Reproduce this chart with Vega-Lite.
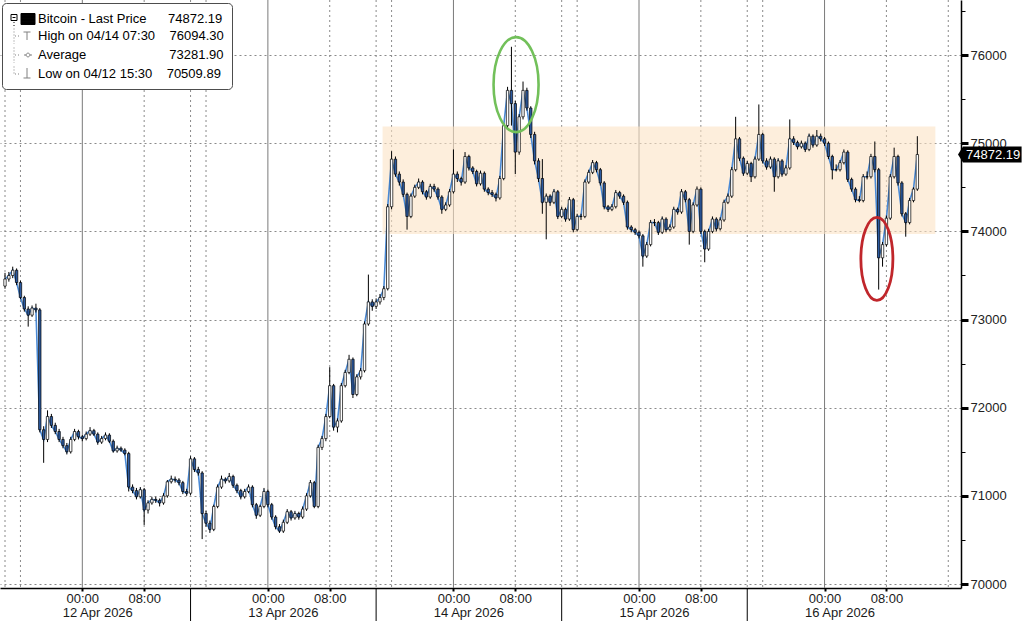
{
  "$schema": "https://vega.github.io/schema/vega-lite/v6.json",
  "width": 961,
  "height": 588,
  "autosize": {"type": "none"},
  "padding": {"left": 0, "top": 0, "right": 62, "bottom": 33},
  "background": "#ffffff",
  "config": {"view": {"stroke": null}, "font": "Liberation Sans"},
  "datasets": {
    "px": [
      {"t":"2026-04-11T14:00","o":73380,"h":73530,"l":73350,"c":73460},
      {"t":"2026-04-11T14:30","o":73460,"h":73540,"l":73430,"c":73500},
      {"t":"2026-04-11T15:00","o":73500,"h":73600,"l":73470,"c":73560},
      {"t":"2026-04-11T15:30","o":73560,"h":73580,"l":73390,"c":73420},
      {"t":"2026-04-11T16:00","o":73420,"h":73440,"l":73230,"c":73250},
      {"t":"2026-04-11T16:30","o":73250,"h":73270,"l":73090,"c":73120},
      {"t":"2026-04-11T17:00","o":73120,"h":73150,"l":72920,"c":73050},
      {"t":"2026-04-11T17:30","o":73050,"h":73160,"l":73030,"c":73130},
      {"t":"2026-04-11T18:00","o":73130,"h":73180,"l":73080,"c":73110},
      {"t":"2026-04-11T18:30","o":73110,"h":73130,"l":71720,"c":71750},
      {"t":"2026-04-11T19:00","o":71750,"h":71790,"l":71375,"c":71640},
      {"t":"2026-04-11T19:30","o":71640,"h":71970,"l":71610,"c":71900},
      {"t":"2026-04-11T20:00","o":71900,"h":71930,"l":71770,"c":71800},
      {"t":"2026-04-11T20:30","o":71800,"h":71830,"l":71700,"c":71730},
      {"t":"2026-04-11T21:00","o":71730,"h":71760,"l":71610,"c":71640},
      {"t":"2026-04-11T21:30","o":71640,"h":71670,"l":71540,"c":71570},
      {"t":"2026-04-11T22:00","o":71570,"h":71600,"l":71470,"c":71500},
      {"t":"2026-04-11T22:30","o":71500,"h":71670,"l":71480,"c":71640},
      {"t":"2026-04-11T23:00","o":71640,"h":71760,"l":71620,"c":71730},
      {"t":"2026-04-11T23:30","o":71730,"h":71750,"l":71640,"c":71670},
      {"t":"2026-04-12T00:00","o":71670,"h":71690,"l":71620,"c":71650},
      {"t":"2026-04-12T00:30","o":71650,"h":71730,"l":71630,"c":71700},
      {"t":"2026-04-12T01:00","o":71700,"h":71780,"l":71680,"c":71740},
      {"t":"2026-04-12T01:30","o":71740,"h":71760,"l":71680,"c":71700},
      {"t":"2026-04-12T02:00","o":71700,"h":71720,"l":71580,"c":71610},
      {"t":"2026-04-12T02:30","o":71610,"h":71680,"l":71590,"c":71650},
      {"t":"2026-04-12T03:00","o":71650,"h":71720,"l":71630,"c":71690},
      {"t":"2026-04-12T03:30","o":71690,"h":71710,"l":71600,"c":71620},
      {"t":"2026-04-12T04:00","o":71620,"h":71640,"l":71490,"c":71510},
      {"t":"2026-04-12T04:30","o":71510,"h":71570,"l":71490,"c":71540},
      {"t":"2026-04-12T05:00","o":71540,"h":71560,"l":71500,"c":71520},
      {"t":"2026-04-12T05:30","o":71520,"h":71540,"l":71460,"c":71480},
      {"t":"2026-04-12T06:00","o":71480,"h":71500,"l":71050,"c":71100},
      {"t":"2026-04-12T06:30","o":71100,"h":71130,"l":71030,"c":71060},
      {"t":"2026-04-12T07:00","o":71060,"h":71090,"l":70960,"c":70990},
      {"t":"2026-04-12T07:30","o":70990,"h":71100,"l":70970,"c":71070},
      {"t":"2026-04-12T08:00","o":71070,"h":71090,"l":70670,"c":70840},
      {"t":"2026-04-12T08:30","o":70840,"h":70950,"l":70800,"c":70920},
      {"t":"2026-04-12T09:00","o":70920,"h":70990,"l":70900,"c":70960},
      {"t":"2026-04-12T09:30","o":70960,"h":70990,"l":70920,"c":70950},
      {"t":"2026-04-12T10:00","o":70950,"h":70970,"l":70880,"c":70920},
      {"t":"2026-04-12T10:30","o":70920,"h":71030,"l":70900,"c":71000},
      {"t":"2026-04-12T11:00","o":71000,"h":71180,"l":70980,"c":71160},
      {"t":"2026-04-12T11:30","o":71160,"h":71230,"l":71140,"c":71190},
      {"t":"2026-04-12T12:00","o":71190,"h":71220,"l":71150,"c":71180},
      {"t":"2026-04-12T12:30","o":71180,"h":71200,"l":71120,"c":71150},
      {"t":"2026-04-12T13:00","o":71150,"h":71170,"l":71020,"c":71050},
      {"t":"2026-04-12T13:30","o":71050,"h":71080,"l":71000,"c":71030},
      {"t":"2026-04-12T14:00","o":71030,"h":71450,"l":71010,"c":71420},
      {"t":"2026-04-12T14:30","o":71420,"h":71440,"l":71270,"c":71300},
      {"t":"2026-04-12T15:00","o":71300,"h":71330,"l":71230,"c":71260},
      {"t":"2026-04-12T15:30","o":71260,"h":71280,"l":70509.89,"c":70800},
      {"t":"2026-04-12T16:00","o":70800,"h":70830,"l":70650,"c":70690},
      {"t":"2026-04-12T16:30","o":70690,"h":70720,"l":70580,"c":70620},
      {"t":"2026-04-12T17:00","o":70620,"h":70900,"l":70600,"c":70880},
      {"t":"2026-04-12T17:30","o":70880,"h":71130,"l":70860,"c":71100},
      {"t":"2026-04-12T18:00","o":71100,"h":71230,"l":71080,"c":71190},
      {"t":"2026-04-12T18:30","o":71190,"h":71210,"l":71140,"c":71170},
      {"t":"2026-04-12T19:00","o":71170,"h":71260,"l":71150,"c":71220},
      {"t":"2026-04-12T19:30","o":71220,"h":71240,"l":71090,"c":71120},
      {"t":"2026-04-12T20:00","o":71120,"h":71140,"l":71030,"c":71060},
      {"t":"2026-04-12T20:30","o":71060,"h":71080,"l":70960,"c":70990},
      {"t":"2026-04-12T21:00","o":70990,"h":71080,"l":70970,"c":71050},
      {"t":"2026-04-12T21:30","o":71050,"h":71130,"l":71030,"c":71100},
      {"t":"2026-04-12T22:00","o":71100,"h":71120,"l":70870,"c":70900},
      {"t":"2026-04-12T22:30","o":70900,"h":70920,"l":70740,"c":70780},
      {"t":"2026-04-12T23:00","o":70780,"h":70900,"l":70760,"c":70880},
      {"t":"2026-04-12T23:30","o":70880,"h":71090,"l":70860,"c":71050},
      {"t":"2026-04-13T00:00","o":71050,"h":71070,"l":70870,"c":70900},
      {"t":"2026-04-13T00:30","o":70900,"h":70920,"l":70730,"c":70760},
      {"t":"2026-04-13T01:00","o":70760,"h":70780,"l":70620,"c":70650},
      {"t":"2026-04-13T01:30","o":70650,"h":70680,"l":70580,"c":70600},
      {"t":"2026-04-13T02:00","o":70600,"h":70730,"l":70580,"c":70700},
      {"t":"2026-04-13T02:30","o":70700,"h":70850,"l":70680,"c":70820},
      {"t":"2026-04-13T03:00","o":70820,"h":70840,"l":70720,"c":70750},
      {"t":"2026-04-13T03:30","o":70750,"h":70830,"l":70730,"c":70800},
      {"t":"2026-04-13T04:00","o":70800,"h":70820,"l":70730,"c":70760},
      {"t":"2026-04-13T04:30","o":70760,"h":70880,"l":70740,"c":70850},
      {"t":"2026-04-13T05:00","o":70850,"h":71030,"l":70830,"c":71000},
      {"t":"2026-04-13T05:30","o":71000,"h":71180,"l":70980,"c":71150},
      {"t":"2026-04-13T06:00","o":71150,"h":71170,"l":70860,"c":70880},
      {"t":"2026-04-13T06:30","o":70880,"h":71580,"l":70860,"c":71550},
      {"t":"2026-04-13T07:00","o":71550,"h":71680,"l":71520,"c":71650},
      {"t":"2026-04-13T07:30","o":71650,"h":71930,"l":71620,"c":71900},
      {"t":"2026-04-13T08:00","o":71900,"h":72460,"l":71880,"c":72250},
      {"t":"2026-04-13T08:30","o":72250,"h":72270,"l":71740,"c":71780},
      {"t":"2026-04-13T09:00","o":71780,"h":71880,"l":71720,"c":71850},
      {"t":"2026-04-13T09:30","o":71850,"h":72280,"l":71830,"c":72250},
      {"t":"2026-04-13T10:00","o":72250,"h":72430,"l":72230,"c":72400},
      {"t":"2026-04-13T10:30","o":72400,"h":72600,"l":72380,"c":72550},
      {"t":"2026-04-13T11:00","o":72550,"h":72570,"l":72110,"c":72150},
      {"t":"2026-04-13T11:30","o":72150,"h":72380,"l":72130,"c":72350},
      {"t":"2026-04-13T12:00","o":72350,"h":72450,"l":72320,"c":72420},
      {"t":"2026-04-13T12:30","o":72420,"h":72980,"l":72400,"c":72950},
      {"t":"2026-04-13T13:00","o":72950,"h":73510,"l":72930,"c":73200},
      {"t":"2026-04-13T13:30","o":73200,"h":73230,"l":73100,"c":73150},
      {"t":"2026-04-13T14:00","o":73150,"h":73240,"l":73120,"c":73200},
      {"t":"2026-04-13T14:30","o":73200,"h":73290,"l":73170,"c":73250},
      {"t":"2026-04-13T15:00","o":73250,"h":73380,"l":73220,"c":73350},
      {"t":"2026-04-13T15:30","o":73350,"h":74310,"l":73330,"c":74280},
      {"t":"2026-04-13T16:00","o":74280,"h":74910,"l":74250,"c":74820},
      {"t":"2026-04-13T16:30","o":74820,"h":74850,"l":74620,"c":74650},
      {"t":"2026-04-13T17:00","o":74650,"h":74680,"l":74520,"c":74560},
      {"t":"2026-04-13T17:30","o":74560,"h":74590,"l":74390,"c":74420},
      {"t":"2026-04-13T18:00","o":74420,"h":74440,"l":74020,"c":74170},
      {"t":"2026-04-13T18:30","o":74170,"h":74430,"l":74150,"c":74400},
      {"t":"2026-04-13T19:00","o":74400,"h":74530,"l":74380,"c":74500},
      {"t":"2026-04-13T19:30","o":74500,"h":74600,"l":74480,"c":74560},
      {"t":"2026-04-13T20:00","o":74560,"h":74580,"l":74420,"c":74450},
      {"t":"2026-04-13T20:30","o":74450,"h":74470,"l":74360,"c":74390},
      {"t":"2026-04-13T21:00","o":74390,"h":74540,"l":74370,"c":74510},
      {"t":"2026-04-13T21:30","o":74510,"h":74540,"l":74450,"c":74480},
      {"t":"2026-04-13T22:00","o":74480,"h":74500,"l":74360,"c":74390},
      {"t":"2026-04-13T22:30","o":74390,"h":74410,"l":74200,"c":74250},
      {"t":"2026-04-13T23:00","o":74250,"h":74330,"l":74230,"c":74300},
      {"t":"2026-04-13T23:30","o":74300,"h":74480,"l":74280,"c":74450},
      {"t":"2026-04-14T00:00","o":74450,"h":74930,"l":74430,"c":74650},
      {"t":"2026-04-14T00:30","o":74650,"h":74680,"l":74560,"c":74600},
      {"t":"2026-04-14T01:00","o":74600,"h":74620,"l":74520,"c":74560},
      {"t":"2026-04-14T01:30","o":74560,"h":74900,"l":74540,"c":74850},
      {"t":"2026-04-14T02:00","o":74850,"h":74870,"l":74690,"c":74720},
      {"t":"2026-04-14T02:30","o":74720,"h":74740,"l":74650,"c":74680},
      {"t":"2026-04-14T03:00","o":74680,"h":74700,"l":74510,"c":74540},
      {"t":"2026-04-14T03:30","o":74540,"h":74690,"l":74520,"c":74660},
      {"t":"2026-04-14T04:00","o":74660,"h":74680,"l":74450,"c":74480},
      {"t":"2026-04-14T04:30","o":74480,"h":74500,"l":74410,"c":74440},
      {"t":"2026-04-14T05:00","o":74440,"h":74470,"l":74390,"c":74420},
      {"t":"2026-04-14T05:30","o":74420,"h":74440,"l":74340,"c":74380},
      {"t":"2026-04-14T06:00","o":74380,"h":74630,"l":74360,"c":74600},
      {"t":"2026-04-14T06:30","o":74600,"h":75230,"l":74580,"c":75200},
      {"t":"2026-04-14T07:00","o":75200,"h":75640,"l":75170,"c":75600},
      {"t":"2026-04-14T07:30","o":75600,"h":76094.3,"l":75200,"c":75450},
      {"t":"2026-04-14T08:00","o":75450,"h":75480,"l":74650,"c":74900},
      {"t":"2026-04-14T08:30","o":74900,"h":75330,"l":74870,"c":75300},
      {"t":"2026-04-14T09:00","o":75300,"h":75700,"l":75270,"c":75600},
      {"t":"2026-04-14T09:30","o":75600,"h":75630,"l":75370,"c":75400},
      {"t":"2026-04-14T10:00","o":75400,"h":75420,"l":75060,"c":75100},
      {"t":"2026-04-14T10:30","o":75100,"h":75130,"l":74760,"c":74800},
      {"t":"2026-04-14T11:00","o":74800,"h":74830,"l":74560,"c":74600},
      {"t":"2026-04-14T11:30","o":74600,"h":74820,"l":74200,"c":74330},
      {"t":"2026-04-14T12:00","o":74330,"h":74430,"l":73910,"c":74400},
      {"t":"2026-04-14T12:30","o":74400,"h":74420,"l":74290,"c":74330},
      {"t":"2026-04-14T13:00","o":74330,"h":74480,"l":74310,"c":74450},
      {"t":"2026-04-14T13:30","o":74450,"h":74470,"l":74140,"c":74170},
      {"t":"2026-04-14T14:00","o":74170,"h":74280,"l":74150,"c":74250},
      {"t":"2026-04-14T14:30","o":74250,"h":74270,"l":74110,"c":74140},
      {"t":"2026-04-14T15:00","o":74140,"h":74390,"l":74120,"c":74360},
      {"t":"2026-04-14T15:30","o":74360,"h":74380,"l":73990,"c":74020},
      {"t":"2026-04-14T16:00","o":74020,"h":74200,"l":74000,"c":74170},
      {"t":"2026-04-14T16:30","o":74170,"h":74200,"l":74130,"c":74170},
      {"t":"2026-04-14T17:00","o":74170,"h":74590,"l":74150,"c":74560},
      {"t":"2026-04-14T17:30","o":74560,"h":74700,"l":74540,"c":74670},
      {"t":"2026-04-14T18:00","o":74670,"h":74810,"l":74650,"c":74780},
      {"t":"2026-04-14T18:30","o":74780,"h":74800,"l":74670,"c":74700},
      {"t":"2026-04-14T19:00","o":74700,"h":74720,"l":74520,"c":74550},
      {"t":"2026-04-14T19:30","o":74550,"h":74570,"l":74250,"c":74280},
      {"t":"2026-04-14T20:00","o":74280,"h":74300,"l":74220,"c":74250},
      {"t":"2026-04-14T20:30","o":74250,"h":74310,"l":74230,"c":74280},
      {"t":"2026-04-14T21:00","o":74280,"h":74470,"l":74260,"c":74440},
      {"t":"2026-04-14T21:30","o":74440,"h":74460,"l":74370,"c":74400},
      {"t":"2026-04-14T22:00","o":74400,"h":74420,"l":74300,"c":74330},
      {"t":"2026-04-14T22:30","o":74330,"h":74350,"l":74020,"c":74050},
      {"t":"2026-04-14T23:00","o":74050,"h":74070,"l":73990,"c":74020},
      {"t":"2026-04-14T23:30","o":74020,"h":74040,"l":73960,"c":73990},
      {"t":"2026-04-15T00:00","o":73990,"h":74010,"l":73920,"c":73950},
      {"t":"2026-04-15T00:30","o":73950,"h":73970,"l":73600,"c":73720},
      {"t":"2026-04-15T01:00","o":73720,"h":73880,"l":73700,"c":73850},
      {"t":"2026-04-15T01:30","o":73850,"h":74130,"l":73830,"c":74100},
      {"t":"2026-04-15T02:00","o":74100,"h":74140,"l":74060,"c":74100},
      {"t":"2026-04-15T02:30","o":74100,"h":74120,"l":73960,"c":73990},
      {"t":"2026-04-15T03:00","o":73990,"h":74170,"l":73970,"c":74140},
      {"t":"2026-04-15T03:30","o":74140,"h":74160,"l":73990,"c":74020},
      {"t":"2026-04-15T04:00","o":74020,"h":74080,"l":74000,"c":74050},
      {"t":"2026-04-15T04:30","o":74050,"h":74280,"l":74030,"c":74250},
      {"t":"2026-04-15T05:00","o":74250,"h":74270,"l":74190,"c":74220},
      {"t":"2026-04-15T05:30","o":74220,"h":74480,"l":74200,"c":74450},
      {"t":"2026-04-15T06:00","o":74450,"h":74470,"l":74330,"c":74360},
      {"t":"2026-04-15T06:30","o":74360,"h":74380,"l":73850,"c":74000},
      {"t":"2026-04-15T07:00","o":74000,"h":74330,"l":73980,"c":74300},
      {"t":"2026-04-15T07:30","o":74300,"h":74510,"l":74280,"c":74480},
      {"t":"2026-04-15T08:00","o":74480,"h":74500,"l":73970,"c":74000},
      {"t":"2026-04-15T08:30","o":74000,"h":74020,"l":73650,"c":73800},
      {"t":"2026-04-15T09:00","o":73800,"h":74030,"l":73780,"c":74000},
      {"t":"2026-04-15T09:30","o":74000,"h":74170,"l":73980,"c":74140},
      {"t":"2026-04-15T10:00","o":74140,"h":74160,"l":74000,"c":74030},
      {"t":"2026-04-15T10:30","o":74030,"h":74160,"l":74010,"c":74130},
      {"t":"2026-04-15T11:00","o":74130,"h":74360,"l":74110,"c":74330},
      {"t":"2026-04-15T11:30","o":74330,"h":74430,"l":74310,"c":74400},
      {"t":"2026-04-15T12:00","o":74400,"h":74730,"l":74380,"c":74700},
      {"t":"2026-04-15T12:30","o":74700,"h":75300,"l":74680,"c":75050},
      {"t":"2026-04-15T13:00","o":75050,"h":75070,"l":74800,"c":74830},
      {"t":"2026-04-15T13:30","o":74830,"h":74850,"l":74630,"c":74660},
      {"t":"2026-04-15T14:00","o":74660,"h":74800,"l":74640,"c":74770},
      {"t":"2026-04-15T14:30","o":74770,"h":74790,"l":74560,"c":74620},
      {"t":"2026-04-15T15:00","o":74620,"h":74850,"l":74600,"c":74820},
      {"t":"2026-04-15T15:30","o":74820,"h":75440,"l":74800,"c":75100},
      {"t":"2026-04-15T16:00","o":75100,"h":75120,"l":74770,"c":74800},
      {"t":"2026-04-15T16:30","o":74800,"h":74830,"l":74700,"c":74730},
      {"t":"2026-04-15T17:00","o":74730,"h":74850,"l":74710,"c":74820},
      {"t":"2026-04-15T17:30","o":74820,"h":74840,"l":74450,"c":74620},
      {"t":"2026-04-15T18:00","o":74620,"h":74830,"l":74600,"c":74800},
      {"t":"2026-04-15T18:30","o":74800,"h":74820,"l":74620,"c":74650},
      {"t":"2026-04-15T19:00","o":74650,"h":74750,"l":74630,"c":74720},
      {"t":"2026-04-15T19:30","o":74720,"h":75270,"l":74700,"c":75050},
      {"t":"2026-04-15T20:00","o":75050,"h":75080,"l":74980,"c":75010},
      {"t":"2026-04-15T20:30","o":75010,"h":75030,"l":74930,"c":74960},
      {"t":"2026-04-15T21:00","o":74960,"h":75030,"l":74940,"c":75000},
      {"t":"2026-04-15T21:30","o":75000,"h":75020,"l":74900,"c":74930},
      {"t":"2026-04-15T22:00","o":74930,"h":75110,"l":74910,"c":75080},
      {"t":"2026-04-15T22:30","o":75080,"h":75100,"l":74950,"c":74980},
      {"t":"2026-04-15T23:00","o":74980,"h":75150,"l":74960,"c":75080},
      {"t":"2026-04-15T23:30","o":75080,"h":75110,"l":75020,"c":75050},
      {"t":"2026-04-16T00:00","o":75050,"h":75070,"l":74970,"c":75000},
      {"t":"2026-04-16T00:30","o":75000,"h":75020,"l":74820,"c":74850},
      {"t":"2026-04-16T01:00","o":74850,"h":74870,"l":74590,"c":74700},
      {"t":"2026-04-16T01:30","o":74700,"h":74760,"l":74680,"c":74700},
      {"t":"2026-04-16T02:00","o":74700,"h":74810,"l":74680,"c":74780},
      {"t":"2026-04-16T02:30","o":74780,"h":74930,"l":74760,"c":74900},
      {"t":"2026-04-16T03:00","o":74900,"h":74920,"l":74560,"c":74590},
      {"t":"2026-04-16T03:30","o":74590,"h":74610,"l":74450,"c":74480},
      {"t":"2026-04-16T04:00","o":74480,"h":74500,"l":74330,"c":74360},
      {"t":"2026-04-16T04:30","o":74360,"h":74400,"l":74330,"c":74350},
      {"t":"2026-04-16T05:00","o":74350,"h":74650,"l":74330,"c":74620},
      {"t":"2026-04-16T05:30","o":74620,"h":74680,"l":74590,"c":74620},
      {"t":"2026-04-16T06:00","o":74620,"h":74880,"l":74600,"c":74850},
      {"t":"2026-04-16T06:30","o":74850,"h":75020,"l":74670,"c":74700},
      {"t":"2026-04-16T07:00","o":74700,"h":74720,"l":73340,"c":73700},
      {"t":"2026-04-16T07:30","o":73700,"h":73880,"l":73600,"c":73850},
      {"t":"2026-04-16T08:00","o":73850,"h":74180,"l":73830,"c":74150},
      {"t":"2026-04-16T08:30","o":74150,"h":74650,"l":74130,"c":74620},
      {"t":"2026-04-16T09:00","o":74620,"h":74950,"l":74600,"c":74850},
      {"t":"2026-04-16T09:30","o":74850,"h":74870,"l":74520,"c":74550},
      {"t":"2026-04-16T10:00","o":74550,"h":74570,"l":74170,"c":74200},
      {"t":"2026-04-16T10:30","o":74200,"h":74220,"l":73940,"c":74100},
      {"t":"2026-04-16T11:00","o":74100,"h":74380,"l":74080,"c":74350},
      {"t":"2026-04-16T11:30","o":74350,"h":74500,"l":74330,"c":74480},
      {"t":"2026-04-16T12:00","o":74480,"h":75080,"l":74460,"c":74872.19}
    ]
  },
  "layer": [
    {
      "data": {"values": [
        {"t": "2026-04-11T14:00"}, {"t": "2026-04-11T16:00"},
        {"t": "2026-04-12T08:00"}, {"t": "2026-04-12T14:00"}, {"t": "2026-04-12T16:00"},
        {"t": "2026-04-13T08:00"}, {"t": "2026-04-13T14:00"}, {"t": "2026-04-13T16:00"},
        {"t": "2026-04-14T08:00"}, {"t": "2026-04-14T14:00"}, {"t": "2026-04-14T16:00"},
        {"t": "2026-04-15T08:00"}, {"t": "2026-04-15T14:00"}, {"t": "2026-04-15T16:00"},
        {"t": "2026-04-16T08:00"}, {"t": "2026-04-16T16:00"}
      ]},
      "mark": {"type": "rule", "color": "#8a8a8a", "strokeWidth": 1, "strokeDash": [2, 3]},
      "encoding": {
        "x": {"field": "t", "type": "temporal", "title": null, "scale": {"domain": [{"year": 2026, "month": 4, "date": 11, "hours": 14}, {"year": 2026, "month": 4, "date": 16, "hours": 17}]}}
      }
    },
    {
      "data": {"values": [{"t": "2026-04-12T00:00"}, {"t": "2026-04-13T00:00"}, {"t": "2026-04-14T00:00"}, {"t": "2026-04-15T00:00"}, {"t": "2026-04-16T00:00"}]},
      "mark": {"type": "rule", "color": "#7a7a7a", "strokeWidth": 1},
      "encoding": {
        "x": {"field": "t", "type": "temporal", "title": null, "scale": {"domain": [{"year": 2026, "month": 4, "date": 11, "hours": 14}, {"year": 2026, "month": 4, "date": 16, "hours": 17}]}}
      }
    },
    {
      "data": {"values": [{"t": "2026-04-13T14:50", "t2": "2026-04-16T14:20", "lo": 73970, "hi": 75190}]},
      "mark": {"type": "rect", "fill": "#fbe3c4", "opacity": 0.6},
      "encoding": {
        "x": {
          "field": "t", "type": "temporal", "title": null,
          "scale": {"domain": [{"year": 2026, "month": 4, "date": 11, "hours": 14}, {"year": 2026, "month": 4, "date": 16, "hours": 17}]},
          "axis": {
            "title": null,
            "values": [
              {"year":2026,"month":4,"date":12,"hours":0},{"year":2026,"month":4,"date":12,"hours":8},
              {"year":2026,"month":4,"date":13,"hours":0},{"year":2026,"month":4,"date":13,"hours":8},
              {"year":2026,"month":4,"date":14,"hours":0},{"year":2026,"month":4,"date":14,"hours":8},
              {"year":2026,"month":4,"date":15,"hours":0},{"year":2026,"month":4,"date":15,"hours":8},
              {"year":2026,"month":4,"date":16,"hours":0},{"year":2026,"month":4,"date":16,"hours":8}
            ],
            "format": "%H:%M",
            "domain": true, "domainColor": "#000000", "domainWidth": 1.5,
            "grid": false,
            "ticks": true, "tickColor": "#000000", "tickSize": 3, "tickWidth": 2,
            "labelOverlap": false, "labelFlush": false, "labelBound": false,
            "labelPadding": 1, "labelFontSize": 13, "labelFont": "Liberation Sans", "labelColor": "#1a1a1a"
          }
        },
        "x2": {"field": "t2"},
        "y": {
          "field": "lo", "type": "quantitative", "title": null,
          "scale": {"domain": [69955, 76625], "nice": false, "zero": false},
          "axis": {
            "title": null, "orient": "right",
            "values": [70000, 70500, 71000, 71500, 72000, 72500, 73000, 73500, 74000, 74500, 75000, 75500, 76000, 76500],
            "format": "d",
            "domain": true, "domainColor": "#000000", "domainWidth": 1.5,
            "grid": true, "gridColor": "#8a8a8a", "gridDash": [2, 3],
            "gridOpacity": {"condition": {"test": "datum.value % 1000 === 0", "value": 1}, "value": 0},
            "tickColor": "#000000", "tickSize": 7,
            "tickDash": {"condition": {"test": "datum.value % 1000 === 0", "value": []}, "value": [4, 20]},
            "tickWidth": {"condition": {"test": "datum.value % 1000 === 0", "value": 3}, "value": 1},
            "labelExpr": "datum.value % 1000 === 0 ? datum.label : ''",
            "labelPadding": 2, "labelFontSize": 13, "labelFont": "Liberation Sans", "labelColor": "#222222"
          }
        },
        "y2": {"field": "hi"}
      }
    },
    {
      "data": {"name": "px"},
      "mark": {"type": "line", "color": "#4a8ad6", "strokeWidth": 1.6},
      "encoding": {
        "x": {"field": "t", "type": "temporal", "title": null, "scale": {"domain": [{"year": 2026, "month": 4, "date": 11, "hours": 14}, {"year": 2026, "month": 4, "date": 16, "hours": 17}]}},
        "y": {"field": "c", "type": "quantitative", "title": null, "scale": {"domain": [69955, 76625], "nice": false, "zero": false}}
      }
    },
    {
      "data": {"name": "px"},
      "mark": {"type": "rule", "color": "#000000", "strokeWidth": 1},
      "encoding": {
        "x": {"field": "t", "type": "temporal", "title": null, "scale": {"domain": [{"year": 2026, "month": 4, "date": 11, "hours": 14}, {"year": 2026, "month": 4, "date": 16, "hours": 17}]}},
        "y": {"field": "l", "type": "quantitative", "title": null, "scale": {"domain": [69955, 76625], "nice": false, "zero": false}},
        "y2": {"field": "h"}
      }
    },
    {
      "data": {"name": "px"},
      "mark": {"type": "bar", "width": 2.4, "stroke": "#000000", "strokeWidth": 0.7, "opacity": 1},
      "encoding": {
        "x": {"field": "t", "type": "temporal", "title": null, "scale": {"domain": [{"year": 2026, "month": 4, "date": 11, "hours": 14}, {"year": 2026, "month": 4, "date": 16, "hours": 17}]}},
        "y": {"field": "o", "type": "quantitative", "title": null, "scale": {"domain": [69955, 76625], "nice": false, "zero": false}},
        "y2": {"field": "c"},
        "fill": {"condition": {"test": "datum.c >= datum.o", "value": "#ffffff"}, "value": "#2c5aa0"}
      }
    },
    {
      "data": {"values": [{"t": "2026-04-12T14:00"}, {"t": "2026-04-13T14:00"}, {"t": "2026-04-14T14:00"}, {"t": "2026-04-15T14:00"}]},
      "mark": {"type": "rule", "color": "#000000", "strokeWidth": 1},
      "encoding": {
        "x": {"field": "t", "type": "temporal", "title": null, "scale": {"domain": [{"year": 2026, "month": 4, "date": 11, "hours": 14}, {"year": 2026, "month": 4, "date": 16, "hours": 17}]}},
        "y": {"datum": 69955, "type": "quantitative", "title": null, "scale": {"domain": [69955, 76625], "nice": false, "zero": false}},
        "y2": {"datum": 69580}
      }
    },
    {
      "data": {"values": [{"t": "2026-04-12T02:00"}, {"t": "2026-04-13T02:00"}, {"t": "2026-04-14T02:00"}, {"t": "2026-04-15T02:00"}, {"t": "2026-04-16T02:00"}]},
      "mark": {"type": "text", "dy": 25, "align": "center", "baseline": "middle", "color": "#1a1a1a", "fontSize": 13, "font": "Liberation Sans"},
      "encoding": {
        "x": {"field": "t", "type": "temporal", "title": null, "scale": {"domain": [{"year": 2026, "month": 4, "date": 11, "hours": 14}, {"year": 2026, "month": 4, "date": 16, "hours": 17}]}},
        "y": {"datum": 69955, "type": "quantitative", "title": null, "scale": {"domain": [69955, 76625], "nice": false, "zero": false}},
        "text": {"field": "t", "type": "temporal", "format": "%d %b %Y"}
      }
    },
    {
      "data": {"values": [{"t": "2026-04-14T08:06", "v": 75665}]},
      "mark": {"type": "point", "shape": "M-0.474,0A0.474,1 0 1,0 0.474,0A0.474,1 0 1,0 -0.474,0Z", "size": 9025, "filled": false, "stroke": "#72c05a", "strokeWidth": 2.6, "opacity": 1},
      "encoding": {
        "x": {"field": "t", "type": "temporal", "title": null, "scale": {"domain": [{"year": 2026, "month": 4, "date": 11, "hours": 14}, {"year": 2026, "month": 4, "date": 16, "hours": 17}]}},
        "y": {"field": "v", "type": "quantitative", "title": null, "scale": {"domain": [69955, 76625], "nice": false, "zero": false}}
      }
    },
    {
      "data": {"values": [{"t": "2026-04-16T06:46", "v": 73688}]},
      "mark": {"type": "point", "shape": "M-0.386,0A0.386,1 0 1,0 0.386,0A0.386,1 0 1,0 -0.386,0Z", "size": 6889, "filled": false, "stroke": "#c0262b", "strokeWidth": 2.8, "opacity": 1},
      "encoding": {
        "x": {"field": "t", "type": "temporal", "title": null, "scale": {"domain": [{"year": 2026, "month": 4, "date": 11, "hours": 14}, {"year": 2026, "month": 4, "date": 16, "hours": 17}]}},
        "y": {"field": "v", "type": "quantitative", "title": null, "scale": {"domain": [69955, 76625], "nice": false, "zero": false}}
      }
    },
    {
      "data": {"values": [{"t": "2026-04-16T17:00", "v": 74872.19, "s": "74872.19"}]},
      "mark": {"type": "point", "shape": "M0.25,0L0.875,-1L8.2,-1L8.2,1L0.875,1Z", "size": 256, "filled": true, "color": "#000000", "opacity": 1},
      "encoding": {
        "x": {"field": "t", "type": "temporal", "title": null, "scale": {"domain": [{"year": 2026, "month": 4, "date": 11, "hours": 14}, {"year": 2026, "month": 4, "date": 16, "hours": 17}]}},
        "y": {"field": "v", "type": "quantitative", "title": null, "scale": {"domain": [69955, 76625], "nice": false, "zero": false}}
      }
    },
    {
      "data": {"values": [{"t": "2026-04-16T17:00", "v": 74872.19, "s": "74872.19"}]},
      "mark": {"type": "text", "dx": 10, "align": "left", "baseline": "middle", "color": "#ffffff", "fontSize": 13, "font": "Liberation Sans"},
      "encoding": {
        "x": {"field": "t", "type": "temporal", "title": null, "scale": {"domain": [{"year": 2026, "month": 4, "date": 11, "hours": 14}, {"year": 2026, "month": 4, "date": 16, "hours": 17}]}},
        "y": {"field": "v", "type": "quantitative", "title": null, "scale": {"domain": [69955, 76625], "nice": false, "zero": false}},
        "text": {"field": "s"}
      }
    },
    {
      "data": {"values": [{"k": "a"}, {"k": "b"}, {"k": "c"}, {"k": "d"}]},
      "transform": [{"filter": "false"}],
      "mark": {"type": "point", "filled": false, "strokeWidth": 1, "size": 225, "opacity": 1},
      "encoding": {
        "color": {
          "field": "k", "type": "nominal",
          "scale": {"domain": ["a", "b", "c", "d"], "range": ["#000000", "#808080", "#808080", "#808080"]}
        },
        "shape": {
          "field": "k", "type": "nominal",
          "scale": {
            "domain": ["a", "b", "c", "d"],
            "range": [
              "M-0.933,-0.6H-0.133M-0.133,-0.6V0.2M-0.133,0.2H-0.933M-0.933,0.2V-0.6M-0.733,-0.2H-0.333M0.4,-0.733H2.267V0.733H0.4ZM0.4,-0.6H2.267M0.4,-0.467H2.267M0.4,-0.333H2.267M0.4,-0.2H2.267M0.4,-0.067H2.267M0.4,0.067H2.267M0.4,0.2H2.267M0.4,0.333H2.267M0.4,0.467H2.267M0.4,0.6H2.267M-0.533,0.4V0.533M-0.533,0.8V0.933",
              "M-0.533,-1V-0.867M-0.533,-0.6V-0.467M-0.533,-0.2V-0.067M-0.533,0.2V0.333M-0.533,0.6V0.733M-0.533,1V1.067M-0.4,0H-0.267M0,0H0.133M0.733,-0.533H1.667M1.2,-0.533V0.533",
              "M-0.533,-1V-0.867M-0.533,-0.6V-0.467M-0.533,-0.2V-0.067M-0.533,0.2V0.333M-0.533,0.6V0.733M-0.533,1V1.067M-0.4,0H-0.267M0,0H0.133M0.8,0H1.083M1.583,0H1.867M1.083,0A0.25,0.25 0 1,0 1.583,0A0.25,0.25 0 1,0 1.083,0",
              "M-0.533,-1V-0.867M-0.533,-0.6V-0.467M-0.533,-0.2V-0.067M-0.4,0H-0.267M0,0H0.133M1.2,-0.8V0.533M0.733,0.533H1.667"
            ]
          },
          "legend": {
            "title": null, "orient": "none", "legendX": 2, "legendY": 3, "zindex": 1,
            "direction": "vertical", "padding": 8, "cornerRadius": 4,
            "strokeColor": "#4d4d4d", "fillColor": "#ffffff",
            "symbolSize": 225, "symbolStrokeWidth": 1, "symbolOpacity": 1,
            "rowPadding": -6, "labelOffset": 12, "labelFontSize": 13, "labelFont": "Liberation Sans", "labelColor": "#000000", "labelLimit": 400,
            "labelExpr": "datum.value === 'a' ? 'Bitcoin - Last Price\u00a0\u00a0\u00a0\u00a0\u00a0\u00a074872.19' : datum.value === 'b' ? 'High on 04/14 07:30\u00a0\u00a0\u00a0\u00a076094.30' : datum.value === 'c' ? 'Average\u00a0\u00a0\u00a0\u00a0\u00a0\u00a0\u00a0\u00a0\u00a0\u00a0\u00a0\u00a0\u00a0\u00a0\u00a0\u00a0\u00a0\u00a0\u00a0\u00a0\u00a0\u00a0\u00a073281.90' : 'Low on 04/12 15:30\u00a0\u00a0\u00a0\u00a070509.89'"
          }
        }
      }
    }
  ]
}
